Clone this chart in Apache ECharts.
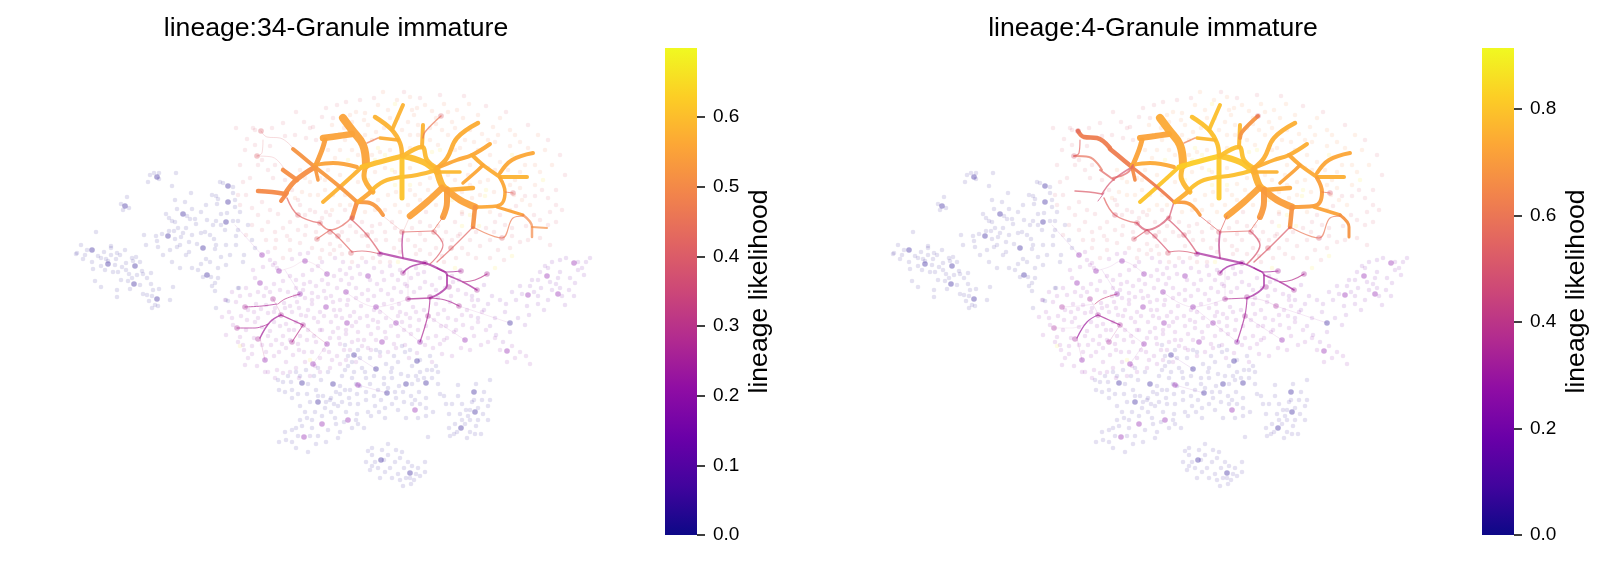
<!DOCTYPE html>
<html><head><meta charset="utf-8">
<style>html,body{margin:0;padding:0;background:#fff}#c{width:1605px;height:562px}</style>
<script src="https://cdn.jsdelivr.net/npm/echarts@6/dist/echarts.min.js"></script>
</head><body><div id="c"></div>
<script>
const panelTitles=['lineage:34-Granule immature','lineage:4-Granule immature'];
const barName='lineage likelihood';
const vmaxes=[0.699,0.915];
const tickValues=[[0,0.1,0.2,0.3,0.4,0.5,0.6],[0,0.2,0.4,0.6,0.8]];
const plasma=['#0d0887','#41049d','#6a00a8','#8f0da4','#b12a90','#cc4778','#e16462','#f2844b','#fca636','#fcce25','#f0f921'];

// embedding coordinates of cells, grouped by tone
const cloudWest=[[150,175],[154,173],[159,173],[176,173],[148,182],[159,179],[172,186],[220,182],[223,183],[233,187],[191,193],[233,193],[216,196],[218,199],[127,197],[121,204],[129,208],[123,210],[175,200],[185,202],[235,200],[217,204],[235,207],[177,209],[192,209],[201,212],[166,214],[187,216],[221,214],[227,213],[169,218],[172,221],[190,219],[195,219],[175,222],[207,220],[216,221],[233,221],[238,221],[196,224],[213,225],[221,225],[178,228],[169,231],[174,231],[183,233],[201,233],[225,230],[238,230],[96,232],[144,235],[162,234],[156,236],[175,239],[181,237],[157,241],[214,239],[81,245],[146,245],[158,247],[177,247],[189,242],[197,244],[216,245],[215,249],[111,246],[111,248],[87,250],[77,253],[76,254],[104,252],[117,253],[120,255],[111,255],[98,256],[101,258],[106,259],[136,257],[132,258],[189,252],[186,255],[83,259],[116,259],[108,261],[133,261],[206,259],[221,257],[126,263],[122,267],[101,266],[201,264],[93,269],[113,272],[118,272],[192,268],[198,270],[142,271],[129,274],[143,274],[151,273],[137,275],[147,278],[211,277],[203,277],[218,278],[121,280],[95,281],[128,281],[132,278],[215,283],[151,284],[212,286],[101,287],[130,289],[140,285],[159,289],[153,290],[173,287],[117,290],[215,291],[238,288],[143,294],[147,295],[117,297],[152,296],[170,300],[149,301],[226,300],[228,301],[155,305],[158,306],[152,308],[216,308],[244,255],[255,248],[252,240],[239,288],[243,262],[226,245],[236,236],[205,232],[210,235],[186,228],[192,235],[180,245],[170,250],[163,255],[172,262],[180,268],[140,262],[126,270],[115,265],[105,270],[92,262],[85,255],[125,250],[210,262],[218,268],[226,265],[230,255],[236,245],[206,205],[212,195],[240,212],[248,225]];
const cloudMid=[[225,300],[222,317],[253,270],[255,278],[263,267],[270,260],[273,265],[277,268],[292,259],[300,254],[308,253],[268,252],[275,263],[250,295],[258,292],[266,288],[274,284],[283,281],[290,276],[296,280],[303,275],[312,270],[318,266],[322,262],[335,258],[343,262],[350,268],[358,266],[366,262],[374,268],[382,272],[390,266],[398,280],[405,284],[411,278],[418,274],[425,282],[432,285],[440,278],[453,282],[458,290],[466,294],[472,300],[236,302],[229,312],[241,316],[247,320],[254,312],[261,309],[268,313],[275,308],[284,303],[290,306],[297,302],[305,298],[312,293],[318,297],[324,291],[331,296],[337,288],[341,280],[349,284],[356,288],[362,294],[368,290],[374,296],[381,290],[388,294],[394,288],[401,292],[407,286],[414,292],[420,288],[436,304],[444,310],[451,296],[467,310],[233,325],[226,335],[240,337],[246,330],[252,346],[243,345],[255,322],[262,327],[270,331],[276,340],[283,336],[289,330],[296,322],[301,315],[308,310],[314,318],[320,312],[333,302],[340,310],[347,305],[354,312],[361,306],[367,316],[373,320],[380,312],[386,318],[392,308],[399,304],[406,314],[413,307],[419,320],[426,326],[434,320],[441,326],[448,318],[456,320],[463,325],[471,316],[478,322],[271,345],[279,352],[286,348],[293,355],[299,350],[307,340],[314,336],[320,330],[333,332],[339,338],[346,334],[352,326],[358,332],[364,340],[371,334],[378,328],[385,332],[391,326],[398,336],[404,330],[411,334],[405,345],[396,348],[388,352],[380,356],[371,350],[362,346],[352,342],[344,350],[337,356],[329,352],[320,358],[312,352],[305,362],[296,368],[286,362],[277,370],[268,372],[257,366],[248,358],[245,365],[454,332],[447,338],[440,344],[433,348],[425,345],[432,362],[474,336],[481,345],[470,350],[461,348],[452,356],[488,342],[495,338],[500,350],[512,346],[520,352],[515,358],[526,356],[530,364],[507,362],[417,353],[409,358],[442,354],[275,378],[283,373],[290,372],[265,372],[299,378],[310,376],[320,372],[330,368],[340,364],[346,360],[356,362],[285,308],[292,312],[299,308],[306,316],[312,304],[318,322],[324,316],[331,322],[336,316],[342,318],[338,328],[330,338],[322,330],[316,342],[308,330],[300,336],[294,330],[286,324],[280,326],[274,322],[268,336],[262,345],[254,338],[248,310],[240,296],[232,292],[246,288],[256,304],[264,296],[270,292],[280,290],[288,292],[296,288],[304,284],[310,282],[316,286],[322,280],[328,284],[334,276],[340,270],[346,274],[352,278],[360,274],[370,280],[377,284],[384,280],[392,275],[400,270],[416,268],[424,272],[436,290],[445,288],[452,276],[459,280],[368,300],[356,298],[348,300],[340,300],[334,310],[360,318],[368,326],[356,322],[350,316],[374,310],[384,304],[392,300],[400,312],[410,318],[416,312],[424,310],[438,314],[446,326],[456,330],[462,315],[474,306],[482,312],[486,330],[472,328],[444,340],[436,336],[428,338],[418,330],[410,326],[402,322],[394,344],[386,338],[376,340],[368,348],[358,340],[350,350],[340,344],[332,360],[324,350],[315,366],[304,352],[298,344],[290,340],[282,344],[274,356],[266,352],[252,354],[244,350],[238,342],[232,318],[258,318],[266,305],[274,312],[295,296],[303,290],[312,300],[326,298],[346,330],[378,322],[398,316],[438,298],[450,302]];
const cloudRight=[[545,266],[552,262],[560,260],[566,258],[578,262],[584,275],[560,272],[570,278],[558,278],[550,282],[538,280],[532,280],[541,288],[534,292],[522,294],[516,300],[527,306],[538,304],[548,300],[565,305],[560,288],[575,283],[582,268],[590,258],[569,290],[544,310],[529,315],[518,318],[505,312],[495,318],[490,326],[496,335],[525,325],[510,332],[503,342],[478,318],[492,296],[478,300],[472,296],[484,285],[538,296],[552,290],[548,268],[540,272],[530,286],[520,286],[512,292],[506,304],[500,300],[488,304],[484,310],[574,296],[562,296],[556,284],[578,270],[586,262]];
const cloudSouth=[[345,345],[352,362],[358,350],[348,366],[342,376],[354,372],[362,368],[370,358],[380,352],[386,364],[391,372],[398,362],[405,352],[412,366],[420,372],[427,370],[436,366],[438,372],[432,378],[418,380],[412,384],[399,386],[392,378],[384,378],[374,376],[366,378],[352,378],[345,390],[336,392],[328,372],[321,380],[314,376],[308,384],[300,376],[291,382],[283,382],[292,390],[298,394],[307,394],[316,390],[323,396],[331,398],[340,394],[349,398],[357,394],[366,392],[374,396],[381,400],[388,388],[396,398],[404,402],[411,396],[419,392],[426,398],[415,400],[398,410],[406,418],[418,418],[426,416],[433,412],[379,412],[368,412],[357,414],[346,412],[338,406],[331,412],[325,408],[315,412],[307,418],[300,420],[296,428],[292,430],[285,432],[279,442],[292,442],[302,426],[312,428],[318,436],[328,430],[336,424],[340,432],[352,428],[358,424],[371,416],[385,418],[454,434],[449,428],[455,424],[465,424],[470,432],[475,434],[481,434],[467,438],[470,420],[478,420],[483,414],[488,406],[490,400],[484,392],[476,384],[482,400],[472,402],[466,410],[460,414],[458,396],[470,410],[488,420],[458,385],[490,380],[457,432],[428,437],[368,451],[372,455],[375,462],[366,462],[378,468],[388,455],[395,462],[400,458],[404,468],[398,474],[392,478],[406,478],[400,480],[418,468],[425,472],[425,462],[414,480],[380,478],[385,472],[370,470],[412,466],[420,476],[411,484],[403,486],[410,478],[372,448],[388,444],[402,452],[345,370],[356,384],[365,372],[370,384],[378,390],[384,384],[392,368],[401,374],[408,376],[416,376],[424,378],[432,370],[395,392],[403,392],[412,404],[420,404],[426,408],[392,404],[385,408],[375,406],[366,400],[358,404],[350,404],[342,402],[334,404],[326,402],[318,396],[310,402],[300,406],[292,398],[285,392],[279,390],[305,412],[312,420],[322,416],[335,418],[344,422],[356,420],[364,428],[338,438],[326,442],[316,444],[310,436],[298,436],[286,440],[296,448],[308,452],[330,400],[340,386],[350,390],[360,386],[318,368],[306,370],[296,372],[288,376],[278,380],[348,356],[360,358],[376,350],[394,356],[402,346],[410,350],[420,360],[430,356],[438,384],[444,396],[446,404],[440,394],[452,404],[449,414],[462,404],[474,400],[478,408],[468,416],[462,420],[476,426],[450,436],[372,466],[384,460],[390,468],[408,462],[396,450],[382,450],[416,474]];
const cloudPink=[[236,128],[253,128],[255,130],[272,128],[283,123],[310,128],[313,127],[322,117],[333,118],[337,105],[247,139],[270,146],[285,136],[295,135],[306,138],[316,140],[258,165],[268,170],[273,178],[250,178],[243,182],[238,195],[240,205],[252,208],[262,202],[270,210],[278,214],[290,222],[283,228],[275,232],[262,230],[252,225],[246,235],[266,240],[275,248],[287,236],[298,230],[305,235],[312,248],[322,250],[330,244],[340,246],[348,240],[356,232],[368,246],[376,240],[386,240],[394,248],[408,240],[415,246],[425,240],[436,248],[442,240],[458,236],[462,248],[468,254],[456,258],[442,256],[430,254],[416,254],[390,262],[373,258],[362,258],[342,254],[330,254],[300,243],[290,250],[283,258],[480,246],[490,240],[498,250],[510,248],[520,242],[528,240],[540,238],[550,245],[505,225],[512,228],[540,220],[550,212],[556,205],[548,198],[542,190],[535,196],[525,196],[516,206],[300,205],[310,210],[326,212],[338,222],[345,210],[362,222],[372,226],[385,232],[392,222],[420,222],[426,212],[438,226],[455,222],[462,214],[460,234],[486,228],[495,222],[245,150],[255,145],[262,160],[275,165],[285,180],[292,190],[298,200],[305,215],[315,212],[322,218],[330,215],[342,232],[350,226],[362,236],[372,232],[380,224],[395,228],[400,240],[412,228],[420,234],[430,226],[446,232],[452,240],[470,240],[476,232],[494,232],[512,236],[526,226],[534,215],[548,225],[556,222],[562,210],[500,215],[240,165],[246,195],[258,215],[268,222],[276,240],[290,240],[306,226],[316,232],[320,258],[334,250],[352,262],[380,262],[400,252],[420,250],[444,262],[476,258],[490,258],[504,260],[296,112],[304,122],[326,108],[346,102],[360,100],[374,98],[404,92],[420,98],[440,95],[464,96],[486,106],[506,112],[528,125],[548,140],[560,155],[565,175],[556,190]];
const cloudCore=[[356,112],[365,113],[383,92],[397,100],[410,97],[417,108],[432,111],[457,110],[469,104],[478,115],[493,127],[500,118],[510,130],[520,142],[538,135],[545,150],[552,165],[540,172],[344,128],[352,122],[368,125],[378,105],[388,110],[398,118],[408,122],[414,115],[425,105],[436,124],[444,104],[452,122],[463,118],[470,130],[482,134],[495,142],[510,146],[525,165],[515,180],[535,185],[490,155],[500,162],[478,150],[460,148],[448,135],[438,145],[430,140],[418,135],[410,148],[390,150],[380,152],[372,155],[365,135],[340,150],[335,158],[328,170],[340,175],[350,178],[358,182],[375,172],[385,168],[395,172],[410,168],[420,184],[430,178],[428,190],[415,195],[408,205],[395,205],[388,195],[378,200],[365,212],[345,195],[333,195],[325,180],[310,182],[302,192],[295,198],[318,195],[400,212],[418,210],[436,205],[455,180],[468,175],[472,198],[480,195],[488,180],[494,192],[462,212],[510,210],[522,200],[530,205],[520,188],[490,212],[345,140],[352,150],[358,155],[372,140],[384,128],[395,135],[410,135],[418,125],[430,128],[442,130],[455,128],[465,140],[474,142],[488,140],[498,135],[515,135],[528,148],[535,165],[520,172],[508,170],[495,170],[488,168],[470,165],[455,150],[448,175],[455,190],[462,192],[470,185],[480,182],[510,185],[514,195],[432,195],[420,200],[410,190],[396,192],[385,210],[375,210],[368,202],[350,205],[340,205],[332,210],[325,190],[320,178],[310,195],[305,178],[300,170],[328,150],[332,125],[350,115],[364,120],[376,132],[390,118],[402,130],[412,110],[436,118],[448,112]];
const cloudGlow=[[486,190],[485,196],[512,155],[543,180],[395,104],[385,155],[392,170],[395,185],[410,185],[375,160],[368,180],[412,160],[378,148],[355,172],[348,160],[452,200],[462,226],[479,226],[240,346],[310,360],[455,268],[495,268],[398,262],[512,256],[470,215],[440,150],[432,152]];

const nodesBlue=[[157,177],[125,206],[228,186],[228,202],[183,214],[226,222],[168,236],[203,248],[92,250],[108,264],[135,266],[207,275],[134,284],[157,299],[510,323],[354,355],[417,361],[376,369],[302,383],[333,384],[406,384],[426,383],[387,393],[474,392],[318,402],[475,412],[461,428],[381,460],[410,473]];
const nodesPurple=[[262,255],[279,271],[305,261],[327,274],[368,276],[260,283],[346,292],[300,294],[326,307],[376,307],[347,323],[396,323],[382,342],[465,340],[507,351],[574,263],[547,276],[528,295],[558,294],[313,364],[358,385],[415,410],[348,420],[322,424],[304,437],[420,342],[265,360],[327,344]];
const nodesMagenta=[[273,299],[245,307],[281,315],[303,325],[237,328],[258,339],[292,342],[408,299],[430,297],[459,306],[428,316],[461,271],[487,274],[477,290],[449,287],[403,273],[425,263],[380,254]];
const nodesPink=[[351,253],[402,232],[434,232],[451,248],[317,239],[338,236],[330,232],[261,131],[257,156],[298,215],[320,223],[367,235],[502,238],[441,116],[513,193],[352,218]];

// likelihood of each tone in the two panels
const cloudGroups=[cloudWest,cloudSouth,cloudRight,cloudMid,cloudPink,cloudCore,cloudGlow];
const cloudValuesA=[0.02,0.03,0.15,0.21,0.38,0.47,0.66];
const cloudValuesB=[0.03,0.05,0.2,0.27,0.5,0.66,0.88];
const nodeGroups=[nodesBlue,nodesPurple,nodesMagenta,nodesPink];
const nodeValuesA=[0.02,0.19,0.26,0.4];
const nodeValuesB=[0.03,0.25,0.33,0.5];

const branchPaths=[
[[258,191],[272,192],[285,194]],[[285,194],[295,181],[315,167]],[[283,170],[297,180]],[[281,201],[287,193]],[[293,149],[304,158],[315,167]],[[315,167],[318,180]],[[315,167],[322,150],[325,140]],[[323,138],[338,136],[352,134]],[[343,118],[352,130],[363,145],[366,165]],[[366,165],[364,176],[373,192]],
[[323,202],[340,187],[362,167]],[[362,167],[387,160],[403,156]],[[403,156],[423,162],[437,172]],[[315,165],[333,163],[357,167]],[[315,167],[340,187],[357,202]],[[357,202],[352,218]],[[357,202],[370,203],[383,215]],[[358,202],[367,195],[373,190]],[[373,189],[387,180],[417,175],[437,170]],[[402,160],[402,198]],
[[375,117],[392,130],[400,143],[402,155]],[[403,105],[392,130]],[[380,138],[398,140]],[[367,143],[378,138]],[[403,156],[422,147],[427,160],[437,168]],[[423,125],[422,147]],[[441,116],[425,132],[423,138]],[[478,123],[457,138],[447,158],[437,168]],[[437,168],[457,160],[472,155],[490,144]],[[472,155],[483,165],[500,177]],
[[500,173],[512,160],[533,153]],[[500,177],[527,177]],[[500,178],[505,192],[503,202],[497,206],[475,207]],[[475,207],[460,200],[447,190]],[[437,172],[460,172]],[[437,170],[442,185],[447,190]],[[447,190],[473,188]],[[463,183],[478,170],[483,165]],[[447,190],[447,202],[443,217]],[[442,188],[427,202],[410,216]],
[[475,207],[473,227]],[[497,207],[523,215]],[[523,215],[532,227],[532,237]],[[532,227],[547,228]],[[505,192],[513,193]],[[287,198],[298,215],[320,223]],[[320,223],[330,230],[343,225],[352,217]],[[330,230],[317,239]],[[330,230],[338,237],[352,252]],[[352,252],[362,251],[380,254]],
[[352,220],[367,235],[380,253]],[[383,216],[403,232]],[[403,232],[402,245],[403,258]],[[403,232],[433,231]],[[433,231],[443,245],[430,264]],[[410,216],[403,232]],[[443,217],[433,231]],[[473,227],[452,248],[437,262]],[[473,227],[502,238],[513,218],[523,216]],[[261,131],[267,137],[280,138],[293,148]],
[[263,140],[262,153],[257,156]],[[257,156],[272,157],[285,170]],[[296,178],[310,173],[316,165]],[[380,253],[402,258],[425,263]],[[425,263],[437,268],[447,275],[447,285],[440,293],[430,298]],[[430,298],[408,299]],[[437,268],[447,272],[461,271]],[[447,275],[463,282],[477,290]],[[463,282],[475,280],[487,274]],[[425,263],[410,267],[403,273]],
[[430,298],[428,315],[420,342]],[[430,298],[445,300],[459,306]],[[281,315],[270,322],[260,338]],[[260,338],[265,360]],[[245,307],[262,306],[277,304]],[[237,328],[255,328],[268,324]],[[281,315],[292,320],[303,325]],[[303,325],[315,335],[327,344]],[[303,325],[292,342]],[[273,299],[279,310],[281,315]],
[[300,294],[285,299],[278,304]],[[279,271],[292,267],[305,261],[327,274]],[[346,292],[376,307],[408,299]],[[408,299],[408,270]],[[459,306],[510,323]],[[428,316],[465,340]],[[376,307],[420,342]],[[327,344],[313,364]],[[354,355],[376,369]],[[358,385],[387,393]],[[235,225],[262,255]],[[300,294],[285,270]]];
const branchWidthA=[4.5,5,4.5,4,4,3.5,5,6.5,8,5,4,5,6,4,4,4.5,4,4.5,4,5,4.5,4,3.5,1.5,4.5,4,1.5,4.5,4,4,4,4,3.5,7,3.5,7,4.5,3.5,6,6.5,4.5,3,2.5,2,1,1.5,1.5,1.2,1.2,1.2,1.5,0.8,1.5,1.2,1.2,0.8,1,1.2,1.2,0.9,0.9,0.8,0,2.2,2,1.5,1.2,1.5,1.2,1.5,1.2,1.2,1.5,0.8,1,1,1.3,0.8,1.1,0.8,1,0.4,0.4,0.4,0.4,0.4,0.4,0.4,0.4,0.4,0.4,0.4];
const branchValueA=[0.5,0.51,0.51,0.5,0.52,0.53,0.54,0.55,0.55,0.57,0.58,0.6,0.6,0.55,0.53,0.51,0.53,0.56,0.59,0.61,0.58,0.58,0.57,0.47,0.59,0.58,0.46,0.57,0.56,0.57,0.56,0.58,0.56,0.55,0.59,0.58,0.57,0.56,0.54,0.55,0.52,0.55,0.5,0.51,0.45,0.42,0.43,0.43,0.42,0.4,0.4,0.42,0.29,0.42,0.4,0.42,0.45,0.42,0.47,0.4,0.4,0.4,0.4,0.25,0.25,0.27,0.26,0.26,0.3,0.25,0.27,0.27,0.25,0.3,0.27,0.27,0.27,0.32,0.3,0.3,0.3,0.3,0.25,0.25,0.25,0.25,0.25,0.25,0.15,0.2,0.2,0.2];
const branchWidthB=[1.5,1.5,2,1,4.5,3.5,5,6,8,5,4,5,6,4,3,1.5,3.5,4.5,4,5,4.5,4,3.5,1.5,4.5,4,4,4.5,4,4,4,4,4,7,3.5,7,4.5,3.5,6,6.5,4.5,3.5,3,0,1,1.5,2,1.2,1.2,1.2,1.5,1,1.8,1.2,1.5,1,1,1.5,1.2,4.5,1.2,2,2,2.2,1.8,1,1.2,1.5,1.2,1.5,1.2,0.5,1.2,0.5,0.4,0.3,1.2,0.4,0.8,0.5,1,0.4,0.4,0.4,0.4,0.4,0.4,0.4,0.4,0.4,0.4,0.4];
const branchValueB=[0.52,0.5,0.55,0.45,0.62,0.66,0.72,0.72,0.74,0.77,0.8,0.82,0.8,0.74,0.62,0.5,0.7,0.75,0.79,0.81,0.79,0.79,0.77,0.62,0.79,0.77,0.68,0.75,0.75,0.74,0.73,0.75,0.71,0.71,0.76,0.75,0.73,0.72,0.7,0.72,0.68,0.72,0.68,0.68,0.6,0.55,0.5,0.52,0.5,0.5,0.5,0.55,0.4,0.55,0.5,0.55,0.58,0.52,0.6,0.62,0.55,0.58,0.55,0.33,0.32,0.36,0.33,0.33,0.38,0.31,0.34,0.33,0.31,0.33,0.33,0.33,0.34,0.33,0.38,0.34,0.45,0.3,0.3,0.3,0.3,0.3,0.3,0.3,0.2,0.25,0.25,0.25];

function tone(v,vmax){
  const t=Math.max(0,Math.min(1,v/vmax))*10,i=Math.min(9,Math.floor(t)),f=t-i;
  const h=s=>[1,3,5].map(k=>parseInt(s.substr(k,2),16));
  const a=h(plasma[i]),b=h(plasma[i+1]);
  return 'rgb('+a.map((c,k)=>Math.round(c+(b[k]-c)*f)).join(',')+')';
}
const font='"Liberation Sans",Arial,sans-serif';
const embedX=[60,660],embedY=[40,530];
const grids=[],xAxes=[],yAxes=[],series=[],titles=[];
[[60,665,331],[877,1482,1148]].forEach(([gl,cl,tc],p)=>{
  const vmax=vmaxes[p];
  const cloudV=p?cloudValuesB:cloudValuesA,nodeV=p?nodeValuesB:nodeValuesA;
  const bw=p?branchWidthB:branchWidthA,bv=p?branchValueB:branchValueA;
  titles.push({text:panelTitles[p],left:tc,top:10,textAlign:'center',textStyle:{fontFamily:font,fontSize:26.6,fontWeight:'normal',color:'#000'}});
  grids.push({left:gl,top:40,width:600,height:490});
  xAxes.push({gridIndex:2*p,type:'value',min:embedX[0],max:embedX[1],show:false});
  yAxes.push({gridIndex:2*p,type:'value',min:embedY[0],max:embedY[1],inverse:true,show:false});
  cloudGroups.forEach((g,i)=>series.push({type:'scatter',xAxisIndex:2*p,yAxisIndex:2*p,data:g,symbolSize:4.6,silent:true,z:2,
    itemStyle:{color:tone(cloudV[i],vmax),opacity:0.12}}));
  branchPaths.forEach((path,i)=>{ if(!bw[i])return;
    series.push({type:'line',xAxisIndex:2*p,yAxisIndex:2*p,data:path,smooth:0.4,showSymbol:false,silent:true,z:3,
      lineStyle:{color:tone(bv[i],vmax),width:bw[i],opacity:bw[i]>=3?0.95:(bw[i]>=1?0.7:0.25),cap:'round'}});
  });
  nodeGroups.forEach((g,i)=>series.push({type:'scatter',xAxisIndex:2*p,yAxisIndex:2*p,data:g,symbolSize:5.6,silent:true,z:4,
    itemStyle:{color:tone(nodeV[i],vmax),opacity:0.35}}));
  // colour bar
  grids.push({left:cl,top:48,width:32,height:487});
  xAxes.push({gridIndex:2*p+1,type:'category',data:[''],show:false});
  yAxes.push({gridIndex:2*p+1,type:'value',position:'right',min:0,max:vmax,
    name:barName,nameLocation:'middle',nameRotate:90,nameGap:49,nameMoveOverlap:false,nameTextStyle:{fontFamily:font,fontSize:26.6,color:'#000'},
    axisLine:{show:false},splitLine:{show:false},
    axisTick:{show:true,length:8,customValues:tickValues[p],lineStyle:{color:'#000',width:1.5}},
    axisLabel:{show:true,customValues:tickValues[p],margin:16,fontFamily:font,fontSize:19,color:'#000',formatter:v=>v.toFixed(1)}});
  series.push({type:'bar',xAxisIndex:2*p+1,yAxisIndex:2*p+1,data:[vmax],barWidth:'100%',silent:true,
    itemStyle:{color:new echarts.graphic.LinearGradient(0,1,0,0,plasma.map((c,i)=>({offset:i/10,color:c})))}});
});
const chart=echarts.init(document.getElementById('c'),null,{renderer:'canvas'});
chart.setOption({animation:false,backgroundColor:'#fff',title:titles,grid:grids,xAxis:xAxes,yAxis:yAxes,series:series,tooltip:{show:false}});
</script></body></html>
